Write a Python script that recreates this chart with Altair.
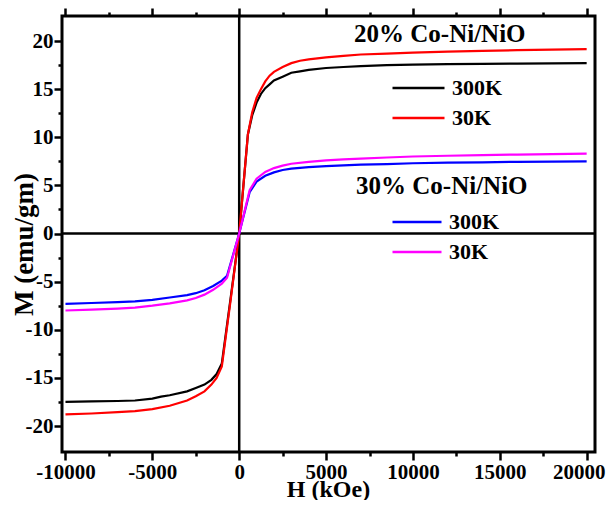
import altair as alt
import pandas as pd

# ---- data ----
H_20_300 = [-10000, -8500, -7000, -6000, -5000, -4500, -4000, -3000, -2500, -2000, -1600, -1300, -1000, -500, 0,
            500, 750, 1000, 1250, 1500, 1750, 2000, 2500, 3000, 3500, 4000, 5000, 6000, 7000, 8500, 10000, 12000, 14000, 16000, 18000, 20000]
M_20_300 = [-17.5, -17.45, -17.4, -17.35, -17.15, -16.95, -16.8, -16.4, -16.05, -15.7, -15.2, -14.6, -13.5, -6.8, 0,
            10.3, 12.3, 13.6, 14.5, 15.1, 15.5, 15.9, 16.3, 16.7, 16.85, 17.0, 17.2, 17.3, 17.4, 17.5, 17.55, 17.6, 17.62, 17.65, 17.68, 17.7]

H_20_30 = [-10000, -8500, -7000, -6000, -5000, -4000, -3000, -2500, -2000, -1600, -1300, -1000, -500, 0,
           500, 750, 1000, 1250, 1500, 1750, 2000, 2500, 3000, 3500, 4000, 5000, 6000, 7000, 8500, 10000, 12000, 14000, 16000, 18000, 20000]
M_20_30 = [-18.8, -18.7, -18.55, -18.45, -18.25, -17.9, -17.35, -16.9, -16.4, -15.7, -15.0, -13.8, -7.0, 0,
           10.3, 12.6, 14.1, 15.0, 15.8, 16.4, 16.8, 17.3, 17.7, 17.95, 18.1, 18.3, 18.45, 18.6, 18.7, 18.8, 18.9, 18.97, 19.05, 19.1, 19.15]

H_30_300 = [-10000, -8500, -7000, -6000, -5000, -4000, -3000, -2500, -2000, -1500, -1000, -700, 0,
            600, 1000, 1500, 2000, 2500, 3000, 4000, 5000, 6000, 7000, 8500, 10000, 12000, 14000, 16000, 18000, 20000]
M_30_300 = [-7.3, -7.22, -7.13, -7.05, -6.9, -6.65, -6.4, -6.2, -5.9, -5.45, -4.9, -4.4, 0,
            4.3, 5.4, 6.0, 6.35, 6.6, 6.75, 6.9, 7.0, 7.08, 7.15, 7.22, 7.3, 7.36, 7.4, 7.45, 7.48, 7.5]

H_30_30 = [-10000, -8500, -7000, -6000, -5000, -4000, -3000, -2500, -2000, -1500, -1000, -700, 0,
           600, 1000, 1500, 2000, 2500, 3000, 4000, 5000, 6000, 7000, 8500, 10000, 12000, 14000, 16000, 18000, 20000]
M_30_30 = [-8.0, -7.9, -7.8, -7.7, -7.5, -7.25, -6.95, -6.7, -6.35, -5.85, -5.2, -4.6, 0,
           4.5, 5.7, 6.4, 6.8, 7.05, 7.25, 7.45, 7.6, 7.7, 7.78, 7.9, 8.0, 8.08, 8.15, 8.2, 8.25, 8.3]

temps = ["300K", "30K"]
colors_20 = ["#000000", "#ff0000"]
colors_30 = ["#0000ff", "#ff00ff"]
legend_titles = ["20% Co-Ni/NiO", "30% Co-Ni/NiO"]

x_ticks = list(range(-10000, 20001, 2500))
y_ticks = [v * 2.5 for v in range(-8, 9)]
x_domain = [-10200, 20480]
y_domain = [-22.7, 22.6]

rows = []
for sample, temp, H, M in [("20", "300K", H_20_300, M_20_300), ("20", "30K", H_20_30, M_20_30),
                           ("30", "300K", H_30_300, M_30_300), ("30", "30K", H_30_30, M_30_30)]:
    for h, m in zip(H, M):
        rows.append({"H": h, "M": m, "sample": sample, "temp": temp})
df = pd.DataFrame(rows)
zero_df = pd.DataFrame({"v": [0]})

FONT = "Liberation Serif"
xscale = alt.Scale(domain=x_domain, nice=False, zero=False)
yscale = alt.Scale(domain=y_domain, nice=False, zero=False)

x_tick_size = {"condition": {"test": "datum.value % 5000 === 0", "value": 8}, "value": 4}
y_tick_size = {"condition": {"test": "datum.value % 5 === 0", "value": 8}, "value": 4}
x_label_offset = {"condition": {"test": "datum.value === 20000", "value": -8}, "value": 0}


def legend(title, x, y, pad, offset, size):
    return alt.Legend(
        title=title, orient="none", legendX=x, legendY=y, padding=0,
        titleFont=FONT, titleFontSize=25, titleFontWeight="bold", titleColor="black",
        titlePadding=pad, titleAnchor="start", titleLimit=400,
        labelFont=FONT, labelFontSize=22, labelFontWeight="bold", labelColor="black",
        labelOffset=6, symbolType="stroke", symbolSize=size, symbolStrokeWidth=2.5,
        symbolOffset=offset, clipHeight=22, rowPadding=8,
    )


vrule = alt.Chart(zero_df).mark_rule(color="black", strokeWidth=2.5).encode(
    x=alt.X("v:Q", scale=xscale,
            axis=alt.Axis(orient="top", values=x_ticks, labels=False, tickSize=x_tick_size,
                          domain=False, title=None))
)
hrule = alt.Chart(zero_df).mark_rule(color="black", strokeWidth=2.5).encode(
    y=alt.Y("v:Q", scale=yscale, axis=None)
)

lineA = alt.Chart(df).transform_filter(alt.datum.sample == "20").mark_line(strokeWidth=2.2).encode(
    x=alt.X("H:Q", scale=xscale,
            axis=alt.Axis(orient="bottom", values=x_ticks,
                          labelExpr="datum.value % 5000 === 0 ? '' + datum.value : ''",
                          labelOffset=x_label_offset,
                          tickSize=x_tick_size, title="H (kOe)", titleX=266, titleY=44,
                          titleFontSize=24, titleBaseline="alphabetic")),
    y=alt.Y("M:Q", scale=yscale,
            axis=alt.Axis(orient="left", values=y_ticks,
                          labelExpr="datum.value % 5 === 0 ? '' + datum.value : ''",
                          tickSize=y_tick_size, title="M (emu/gm)", titleX=-38, titleY=228,
                          titleFontSize=27, titleAlign="center", titleBaseline="middle",
                          titleAngle=-90)),
    color=alt.Color("temp:N", scale=alt.Scale(domain=temps, range=colors_20),
                    legend=legend(legend_titles[0], 292, 6, 30, 37, 2704)),
)

lineB = alt.Chart(df).transform_filter(alt.datum.sample == "30").mark_line(strokeWidth=2.2).encode(
    x=alt.X("H:Q", scale=xscale, axis=None),
    y=alt.Y("M:Q", scale=yscale, axis=None),
    color=alt.Color("temp:N", scale=alt.Scale(domain=temps, range=colors_30),
                    legend=legend(legend_titles[1], 294, 158, 12, 35, 2401)),
)

chart = (
    alt.layer(vrule, hrule, lineA, lineB)
    .resolve_scale(color="independent")
    .resolve_axis(x="independent", y="independent")
    .properties(width=533, height=436, autosize=alt.AutoSizeParams(type="none"),
                padding={"left": 54, "top": 8, "right": 11, "bottom": 48})
    .configure_view(stroke="black", strokeWidth=3)
    .configure_axis(grid=False, domain=False, tickColor="black", tickWidth=2.5,
                    labelFont=FONT, labelFontSize=21, labelFontWeight="bold", labelColor="black",
                    labelPadding=1, titleFont=FONT, titleFontSize=25, titleFontWeight="bold",
                    titleColor="black")
)

chart.save("out.html", embed_options={"renderer": "svg", "actions": False})
